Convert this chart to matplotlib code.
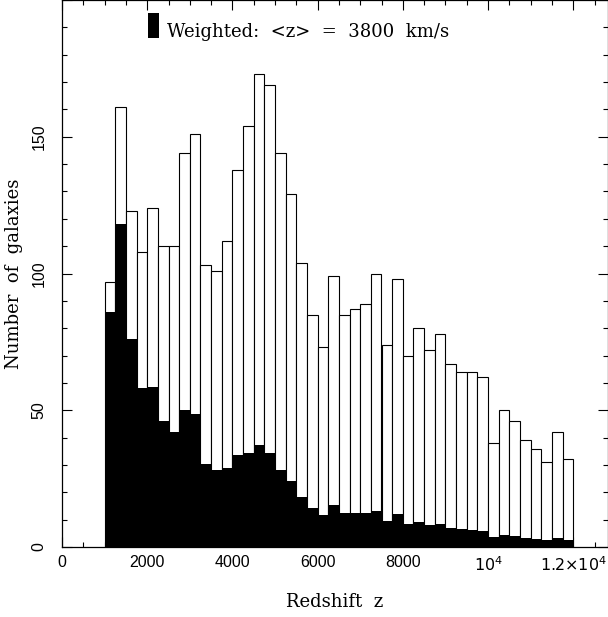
import numpy as np
import matplotlib
matplotlib.use("Agg")
import matplotlib.pyplot as plt
from matplotlib.patches import Rectangle
from matplotlib.ticker import MultipleLocator, FixedLocator

# Bin edges: 250 km/s bins from 1000 to 12000
bin_start = 1000
bin_width = 250
total_counts = [97, 161, 123, 108, 124, 110, 110, 144, 151, 103, 101, 112,
                138, 154, 173, 169, 144, 129, 104, 85, 73, 99, 85, 87,
                89, 100, 74, 98, 70, 80, 72, 78, 67, 64, 64, 62,
                38, 50, 46, 39, 36, 31, 42, 32]
weighted_counts = [86, 118, 76, 58, 58.5, 46, 42, 50, 48.5, 30.5, 28, 29,
                   33.5, 34.5, 37.3, 34.5, 28, 24, 18.3, 14.3, 11.7, 15.4, 12.5, 12.5,
                   12.5, 13.2, 9.6, 11.9, 8.4, 9.1, 8.0, 8.4, 7.1, 6.6, 6.2, 5.8,
                   3.8, 4.3, 4.0, 3.3, 2.9, 2.6, 3.3, 2.6]
xtick_vals = [0, 2000, 4000, 6000, 8000, 10000, 12000]
xtick_labels = ["0", "2000", "4000", "6000", "8000", r"$10^4$", r"$1.2{\times}10^4$"]
ytick_vals = [0, 50, 100, 150]
legend_text = "Weighted:  <z>  =  3800  km/s"

edges = bin_start + bin_width * np.arange(len(total_counts) + 1)
left = edges[:-1]

W, H = 608, 617
fig = plt.figure(figsize=(W / 100, H / 100), dpi=100)
ax = fig.add_axes([62 / W, (H - 547) / H, 546 / W, 547 / H])

ax.bar(left, total_counts, width=bin_width, align="edge", color="white",
       edgecolor="black", linewidth=0.8, zorder=2)
ax.bar(left, weighted_counts, width=bin_width, align="edge", color="black",
       edgecolor="black", linewidth=0.0, zorder=3)

ax.set_xlim(0, 546 / 42.6 * 1000)
ax.set_ylim(0, 200)

ax.set_xticks(xtick_vals)
ax.set_xticklabels(xtick_labels)
ax.xaxis.set_minor_locator(MultipleLocator(500))
ax.set_yticks(ytick_vals + [200])
ax.set_yticklabels([str(v) for v in ytick_vals] + [""])
ax.yaxis.set_minor_locator(MultipleLocator(10))

tick_font = "Liberation Sans"
ax.tick_params(axis="both", which="both", direction="in", top=True, right=True,
               width=0.8, color="black")
ax.tick_params(axis="both", which="major", length=7)
ax.tick_params(axis="both", which="minor", length=3.5)
ax.tick_params(axis="x", which="major", pad=6)
ax.tick_params(axis="y", which="major", pad=11)
for lab in ax.get_xticklabels():
    lab.set_fontfamily(tick_font)
    lab.set_fontsize(11.5)
for lab in ax.get_yticklabels():
    lab.set_rotation(90)
    lab.set_va("center")
    lab.set_fontfamily(tick_font)
    lab.set_fontsize(11.5)

for s in ax.spines.values():
    s.set_linewidth(0.9)

ax.set_xlabel("Redshift  z", family="DejaVu Serif", fontsize=13, labelpad=14)
ax.set_ylabel("Number  of  galaxies", family="DejaVu Serif", fontsize=13, labelpad=6)

# legend-like key
ax.add_patch(Rectangle(((148 - 62) / 546, 1 - 38 / 547), 11 / 546, 25 / 547,
                       transform=ax.transAxes, facecolor="black", edgecolor="none",
                       zorder=5, clip_on=False))
ax.text((167 - 62) / 546, 1 - 37 / 547, legend_text, transform=ax.transAxes,
        family="DejaVu Serif", fontsize=13, va="baseline", ha="left", zorder=5)

fig.savefig("out.png", dpi=100)
